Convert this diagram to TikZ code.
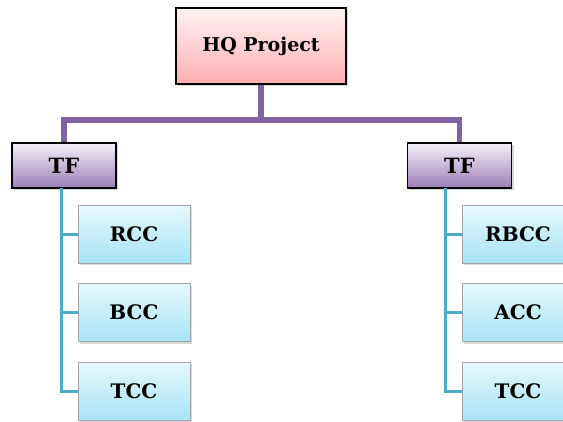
\documentclass[tikz,border=0pt]{standalone}
\usepackage{fontspec}
\setmainfont{DejaVu Serif}
\usetikzlibrary{shadows}
\definecolor{hqtop}{HTML}{FFF2F2}
\definecolor{hqbot}{HTML}{FFB0B0}
\definecolor{tftop}{HTML}{F5F1F9}
\definecolor{tfbot}{HTML}{9B7EB6}
\definecolor{cctop}{HTML}{E6F8FD}
\definecolor{ccbot}{HTML}{A8E3F6}
\definecolor{purpleline}{HTML}{8064A2}
\definecolor{blueline}{HTML}{4BACC6}
\tikzset{hqbox/.style={draw=black, line width=1.2pt, top color=hqtop, bottom color=hqbot, minimum width=170pt, minimum height=76pt, font=\bfseries\fontsize{19}{21}\selectfont, drop shadow={shadow xshift=2pt, shadow yshift=-2pt, opacity=.3}}}
\tikzset{tfbox/.style={draw=black, line width=1.2pt, top color=tftop, bottom color=tfbot, minimum width=104pt, minimum height=45pt, font=\bfseries\fontsize{21}{23}\selectfont, drop shadow={shadow xshift=2pt, shadow yshift=-2pt, opacity=.3}}}
\tikzset{ccbox/.style={draw=gray!70, line width=.8pt, top color=cctop, bottom color=ccbot, minimum width=112pt, minimum height=58pt, font=\bfseries\fontsize{20}{22}\selectfont, drop shadow={shadow xshift=2pt, shadow yshift=-2pt, opacity=.3}}}
\tikzset{tfline/.style={purpleline, line width=5.5pt}}
\tikzset{ccline/.style={blueline, line width=3pt}}

\begin{document}
\begin{tikzpicture}[x=1pt, y=-1pt]
    \useasboundingbox[fill=white] (0,0) rectangle (563,421);
    % top level
    \node[hqbox] (hq) at (261,46) {HQ Project};
    \node[tfbox] (tfL) at (64,165.5) {TF};
    \node[tfbox] (tfR) at (459.5,165.5) {TF};
    \coordinate (split) at (261,120);
    \draw[tfline] (hq.south) -- (split);
    \draw[tfline] (tfL.north) |- (split) -| (tfR.north);
    % child units
    \foreach \u[count=\n] in {RCC,BCC,TCC}{
        \node[ccbox] (ccL\n) at (134,{234+78.5*(\n-1)}) {\u};
        \draw[ccline] (61,188) |- (ccL\n.west);
    }
    \foreach \u[count=\n] in {RBCC,ACC,TCC}{
        \node[ccbox] (ccR\n) at (518,{234+78.5*(\n-1)}) {\u};
        \draw[ccline] (445,188) |- (ccR\n.west);
    }
\end{tikzpicture}
\end{document}
